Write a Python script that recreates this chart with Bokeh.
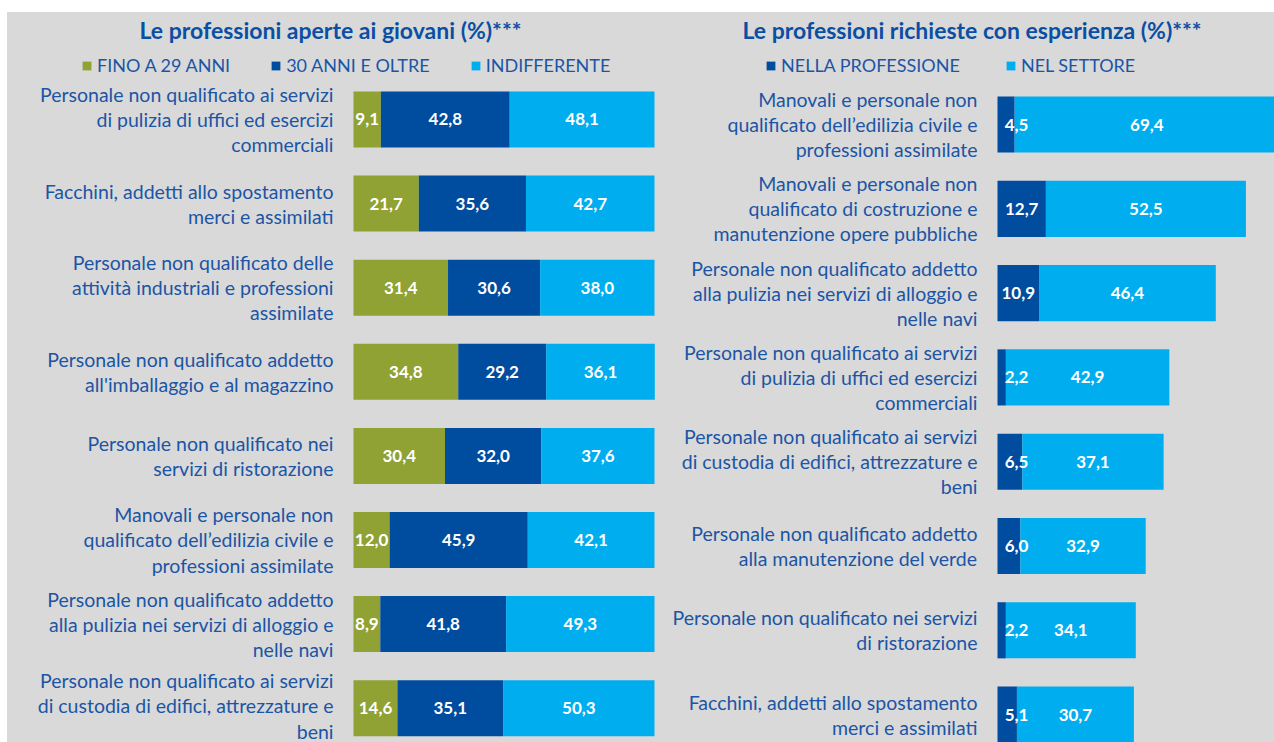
from bokeh.plotting import figure
from bokeh.models import (ColumnDataSource, Range1d, FixedTicker, LabelSet, Label,
                          Legend, LegendItem, Spacer)
from bokeh.core.properties import value
from bokeh.layouts import row, column
from bokeh.embed import file_html
from bokeh.resources import INLINE

# ---------------- data ----------------
left_title = "Le professioni aperte ai giovani (%)***"
left_series = ["FINO A 29 ANNI", "30 ANNI E OLTRE", "INDIFFERENTE"]
left_cats = [
    "Personale non qualificato ai servizi\ndi pulizia di uffici ed esercizi\ncommerciali",
    "Facchini, addetti allo spostamento\nmerci e assimilati",
    "Personale non qualificato delle\nattività industriali e professioni\nassimilate",
    "Personale non qualificato addetto\nall'imballaggio e al magazzino",
    "Personale non qualificato nei\nservizi di ristorazione",
    "Manovali e personale non\nqualificato dell\u2019edilizia civile e\nprofessioni assimilate",
    "Personale non qualificato addetto\nalla pulizia nei servizi di alloggio e\nnelle navi",
    "Personale non qualificato ai servizi\ndi custodia di edifici, attrezzature e\nbeni",
]
left_young = [9.1, 21.7, 31.4, 34.8, 30.4, 12.0, 8.9, 14.6]
left_old = [42.8, 35.6, 30.6, 29.2, 32.0, 45.9, 41.8, 35.1]
left_indiff = [48.1, 42.7, 38.0, 36.1, 37.6, 42.1, 49.3, 50.3]

right_title = "Le professioni richieste con esperienza (%)***"
right_series = ["NELLA PROFESSIONE", "NEL SETTORE"]
right_cats = [
    "Manovali e personale non\nqualificato dell\u2019edilizia civile e\nprofessioni assimilate",
    "Manovali e personale non\nqualificato di costruzione e\nmanutenzione opere pubbliche",
    "Personale non qualificato addetto\nalla pulizia nei servizi di alloggio e\nnelle navi",
    "Personale non qualificato ai servizi\ndi pulizia di uffici ed esercizi\ncommerciali",
    "Personale non qualificato ai servizi\ndi custodia di edifici, attrezzature e\nbeni",
    "Personale non qualificato addetto\nalla manutenzione del verde",
    "Personale non qualificato nei servizi\ndi ristorazione",
    "Facchini, addetti allo spostamento\nmerci e assimilati",
]
right_prof = [4.5, 12.7, 10.9, 2.2, 6.5, 6.0, 2.2, 5.1]
right_sect = [69.4, 52.5, 46.4, 42.9, 37.1, 32.9, 34.1, 30.7]

# ---------------- style ----------------
FONT = "Lato"
GREY = "#D9D9D9"
GREEN = "#8FA233"
DARK = "#004C9F"
LIGHT = "#00AEEF"
TXT = "#1B55A5"
TITLE_C = "#0A4FA3"
FIG_H = 730


def fmt(v):
    return f"{v:.1f}".replace(".", ",")


def make_fig(width, x_start, x_end, y_start, y_end, cats, title, title_x):
    p = figure(width=width, height=FIG_H, output_backend="svg",
               toolbar_location=None, x_range=Range1d(x_start, x_end),
               y_range=Range1d(y_start, y_end),
               min_border_left=0, min_border_right=0,
               min_border_top=0, min_border_bottom=0)
    p.background_fill_color = GREY
    p.border_fill_color = GREY
    p.outline_line_color = None
    p.grid.visible = False
    p.xaxis.visible = False
    n = len(cats)
    ys = list(range(n - 1, -1, -1))
    ax = p.yaxis[0]
    ax.fixed_location = 0
    ax.ticker = FixedTicker(ticks=ys)
    ax.major_label_overrides = {y: c for y, c in zip(ys, cats)}
    ax.axis_line_color = None
    ax.major_tick_line_color = None
    ax.minor_tick_line_color = None
    ax.major_label_standoff = 14
    ax.major_label_text_font = FONT
    ax.major_label_text_font_size = "19.5px"
    ax.major_label_text_color = TXT
    ax.major_label_text_line_height = 1.09
    p.add_layout(Label(x=title_x, y=FIG_H - 17, x_units="screen", y_units="screen",
                       text=title, text_align="left", text_baseline="middle",
                       text_font=FONT, text_font_size="23px", text_font_style="bold",
                       text_color=TITLE_C))
    return p, ys


def labels(xs, ys, ts):
    return LabelSet(x="x", y="y", text="t",
                    source=ColumnDataSource(dict(x=xs, y=ys, t=ts)),
                    text_align="center", text_baseline="middle", text_color="white",
                    text_font=value(FONT), text_font_size="17px", text_font_style="bold")


def legend(items, x, spacing):
    return Legend(items=items, orientation="horizontal", location=(x, 666),
                  margin=0, padding=0, spacing=spacing, label_standoff=5,
                  glyph_width=11, glyph_height=11,
                  label_text_font=FONT, label_text_font_size="18px",
                  label_text_color=TXT, background_fill_alpha=0, border_line_alpha=0)


# ---------------- left chart (figure spans page x 7..665, bar origin at 353) ----------------
L_PX = 3.01  # pixels per percentage point
pl, ysl = make_fig(658, -346 / L_PX, 312 / L_PX, -0.408, 8.272, left_cats, left_title, 132)
srcl = ColumnDataSource(dict(y=ysl, a=left_young, b=left_old, c=left_indiff))
rl = pl.hbar_stack(["a", "b", "c"], y="y", height=0.666, color=[GREEN, DARK, LIGHT],
                   line_color=None, source=srcl)
lx, ly, lt = [], [], []
for y, a, b, c in zip(ysl, left_young, left_old, left_indiff):
    for s, v in ((0, a), (a, b), (a + b, c)):
        lx.append(s + v / 2)
        ly.append(y)
        lt.append(fmt(v))
pl.add_layout(labels(lx, ly, lt))
pl.add_layout(legend([LegendItem(label=s, renderers=[r]) for s, r in zip(left_series, rl)],
                     81 - 7, 40))

# ---------------- right chart (figure spans page x 665..1274, bar origin at 997) ----------------
R_PX = 3.81
pr, ysr = make_fig(609, -332 / R_PX, 277 / R_PX, -0.331, 8.329, right_cats, right_title, 77)
srcr = ColumnDataSource(dict(y=ysr, a=right_prof, b=right_sect))
rr = pr.hbar_stack(["a", "b"], y="y", height=0.666, color=[DARK, LIGHT],
                   line_color=None, source=srcr)
lx, ly, lt = [], [], []
for y, a, b in zip(ysr, right_prof, right_sect):
    lx.append(max(a / 2, 5.0))
    ly.append(y)
    lt.append(fmt(a))
    lx.append(a + b / 2)
    ly.append(y)
    lt.append(fmt(b))
pr.add_layout(labels(lx, ly, lt))
pr.add_layout(legend([LegendItem(label=s, renderers=[r]) for s, r in zip(right_series, rr)],
                     765 - 665, 45))

charts = row(pl, pr, styles={"background-color": GREY})
layout = column(Spacer(height=12, width=1274), row(Spacer(width=7, height=730), charts))
open("out.html", "w").write(file_html(layout, INLINE))
